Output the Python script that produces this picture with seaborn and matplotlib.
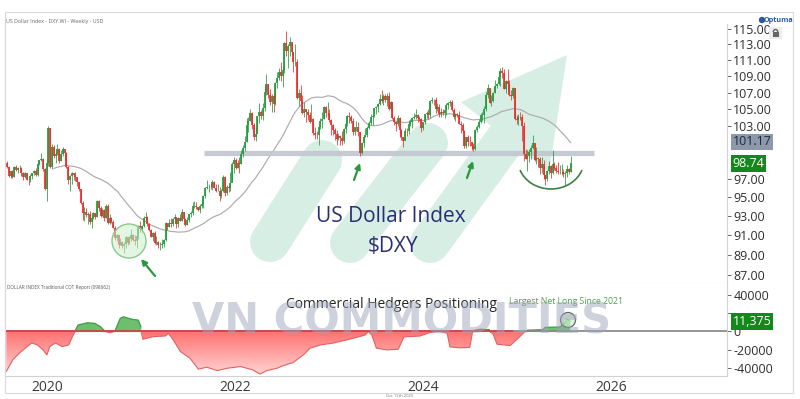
import numpy as np
import pandas as pd
import matplotlib
matplotlib.use("Agg")
import matplotlib.pyplot as plt
import matplotlib.dates as mdates
from matplotlib.transforms import Affine2D, ScaledTranslation
from matplotlib.patches import Circle, Arc, Polygon, Rectangle
from matplotlib.lines import Line2D
from matplotlib.path import Path
from matplotlib.ticker import NullLocator
from matplotlib.colors import LinearSegmentedColormap
import seaborn as sns

# ---------------- data ----------------
# weekly closes before the visible window (for the 40-week moving average)
warmup_close = [96.80, 97.13, 98.00, 98.09, 97.51, 98.14, 97.67, 98.92, 98.40, 98.07, 98.60, 99.13]
first_week = "2019-10-04"   # weekly bars, Fridays

close = [
    # 2019
    98.80, 98.30, 97.28, 97.83, 97.24, 98.35, 97.98, 98.27, 98.27, 97.70, 97.18, 97.66, 96.92,
    # 2020
    96.84, 97.36, 97.61, 97.87, 97.39, 98.69, 99.10, 99.26, 98.13, 95.95, 98.75, 102.82, 98.36,
    100.62, 99.52, 99.76, 100.37, 99.05, 99.75, 100.37, 99.86, 98.34, 96.94, 97.32, 97.62, 97.43,
    97.18, 96.66, 95.91, 94.43, 93.34, 93.42, 93.10, 93.25, 92.37, 92.77, 93.33, 92.93, 94.63,
    93.84, 93.06, 93.68, 92.77, 94.04, 92.23, 92.75, 92.39, 91.79, 90.70, 90.98, 90.02, 90.27,
    # 2021
    89.94, 90.10, 90.77, 90.23, 90.58, 91.03, 90.48, 90.36, 90.88, 91.98, 91.67, 91.92, 92.77,
    92.92, 92.16, 91.56, 90.86, 91.28, 90.22, 90.32, 89.99, 90.03, 90.14, 90.55, 92.23, 91.85,
    92.23, 92.12, 92.68, 92.90, 92.17, 92.80, 92.52, 93.46, 92.66, 92.06, 92.58, 93.20, 93.31,
    94.04, 94.07, 93.96, 93.64, 94.12, 94.32, 95.13, 96.03, 96.09, 96.15, 96.08, 96.63, 96.02, 95.67,
    # 2022
    95.73, 95.17, 95.64, 97.27, 95.48, 96.08, 96.04, 96.61, 98.66, 99.13, 98.23, 98.81, 98.62,
    99.84, 100.51, 101.13, 103.19, 103.66, 104.56, 103.16, 101.68, 102.14, 104.15, 104.66, 104.20, 105.14,
    107.01, 108.06, 106.72, 105.84, 106.61, 105.64, 108.12, 108.82, 109.53, 109.00, 109.76, 113.19, 112.12,
    112.79, 113.31, 111.98, 110.75, 110.81, 106.29, 106.94, 106.01, 104.51, 104.98, 104.70, 104.32, 103.52,
    # 2023
    103.89, 102.20, 101.99, 101.92, 102.92, 103.63, 103.86, 105.21, 104.52, 104.58, 103.72, 103.12, 102.51,
    102.10, 101.55, 101.83, 101.66, 101.32, 102.68, 103.20, 104.23, 104.02, 103.55, 102.28, 102.90, 102.91,
    102.27, 99.91, 101.08, 101.68, 102.02, 102.84, 103.39, 104.08, 104.24, 105.09, 105.32, 105.58, 106.22,
    106.04, 106.62, 106.16, 106.56, 105.06, 105.86, 103.91, 103.45, 103.27, 103.99, 102.58, 101.71, 101.33,
    # 2024
    102.42, 102.40, 103.26, 103.45, 103.92, 104.06, 104.26, 103.92, 103.86, 102.73, 103.44, 104.43, 104.51,
    104.30, 106.04, 106.15, 106.09, 105.02, 105.30, 104.48, 104.71, 104.59, 104.89, 105.55, 105.80, 105.87,
    104.88, 104.09, 104.39, 104.32, 103.21, 103.14, 102.45, 100.72, 101.70, 101.18, 101.11, 100.72, 100.38,
    102.52, 102.89, 103.49, 104.26, 104.28, 105.00, 106.69, 107.55, 105.74, 105.99, 106.99, 107.79, 108.00,
    # 2025
    108.95, 109.65, 109.35, 107.45, 108.37, 108.04, 106.71, 106.63, 107.61, 103.84, 103.72, 104.09, 104.04,
    102.99, 99.79, 99.23, 99.58, 100.02, 100.42, 101.09, 99.11, 99.33, 99.19, 98.18, 98.71, 97.40,
    96.97, 97.85, 98.48, 97.65, 98.69, 98.18, 97.85, 97.72, 97.77, 97.77, 97.55, 97.65, 98.15,
    97.72, 98.74,
]

high = [
    99.67, 99.05, 98.45, 97.90, 98.04, 98.45, 98.51, 98.34, 98.55, 98.29, 97.80, 97.72, 97.71,
    96.99, 97.55, 97.66, 98.05, 98.19, 98.74, 99.15, 99.91, 99.37, 98.24, 99.12, 102.99, 102.77,
    100.93, 100.86, 100.11, 100.93, 100.43, 100.21, 100.56, 100.19, 100.02, 98.46, 97.49, 97.76, 97.70,
    97.81, 97.18, 96.64, 95.92, 94.65, 93.98, 93.91, 93.43, 93.57, 93.00, 93.44, 93.36, 94.74,
    94.75, 94.03, 93.91, 93.72, 94.31, 94.30, 93.21, 92.88, 92.59, 91.92, 91.12, 90.98, 90.72,
    90.43, 90.26, 90.95, 90.81, 90.96, 91.60, 91.15, 91.06, 90.97, 92.10, 92.51, 92.08, 92.97,
    93.44, 93.05, 92.25, 91.64, 91.31, 91.44, 90.90, 90.39, 90.30, 90.63, 90.62, 92.41, 92.17,
    92.74, 92.84, 92.84, 93.19, 92.94, 92.87, 93.19, 93.73, 93.46, 92.81, 92.87, 93.26, 93.53,
    94.50, 94.56, 94.52, 93.97, 94.30, 94.63, 95.26, 96.12, 96.94, 96.45, 96.44, 96.91, 96.73, 96.44,
    96.46, 96.10, 95.92, 97.44, 97.28, 96.31, 96.35, 97.74, 98.91, 99.42, 99.29, 99.08, 99.42,
    100.19, 100.77, 101.86, 103.93, 104.07, 105.01, 104.67, 103.41, 102.73, 104.24, 105.79, 104.95, 105.79,
    107.79, 109.29, 108.09, 107.43, 106.81, 106.93, 108.26, 109.48, 109.99, 110.79, 110.29, 113.33, 114.78,
    113.06, 113.94, 113.15, 112.02, 113.00, 111.20, 107.41, 107.95, 106.70, 105.82, 105.07, 105.00, 104.67,
    105.63, 103.95, 102.90, 102.41, 103.01, 103.96, 104.67, 105.36, 105.36, 105.88, 105.06, 103.89, 103.25,
    102.80, 102.58, 102.25, 101.96, 102.41, 102.73, 103.62, 104.31, 104.70, 104.28, 103.95, 102.93, 103.55,
    103.49, 102.28, 101.17, 101.84, 102.84, 102.98, 103.59, 104.44, 104.27, 105.16, 105.43, 105.78, 106.84,
    107.35, 106.79, 106.78, 106.89, 107.11, 106.00, 105.86, 104.21, 103.55, 104.26, 104.02, 102.72, 101.75,
    102.73, 102.73, 103.69, 103.82, 104.06, 104.60, 104.97, 104.44, 104.21, 103.98, 103.48, 104.48, 104.73,
    105.03, 106.11, 106.52, 106.28, 106.49, 105.74, 105.62, 105.12, 105.00, 104.96, 105.80, 105.91, 106.13,
    106.14, 105.10, 104.49, 104.57, 104.80, 103.56, 103.34, 102.60, 101.76, 101.95, 101.80, 101.11, 101.02,
    102.69, 103.16, 103.87, 104.57, 104.63, 105.44, 107.07, 108.07, 107.35, 106.73, 107.08, 108.54, 108.16,
    109.54, 109.97, 110.18, 109.94, 108.52, 109.88, 108.52, 107.27, 107.66, 107.56, 104.29, 104.41, 104.68,
    104.37, 103.46, 100.38, 100.30, 100.38, 100.86, 101.98, 101.07, 100.54, 99.44, 99.47, 99.42, 99.09,
    97.47, 98.00, 98.95, 98.58, 100.25, 98.86, 98.59, 98.85, 98.54, 98.66, 98.10, 97.91, 98.60,
    98.23, 99.56,
]

low = [
    98.72, 98.25, 97.26, 97.13, 97.11, 97.24, 97.86, 97.67, 98.06, 97.38, 96.85, 97.06, 96.91,
    96.36, 96.63, 97.05, 97.47, 97.32, 97.36, 98.51, 98.97, 97.87, 95.84, 94.65, 98.41, 98.27,
    98.14, 99.37, 98.81, 99.66, 98.82, 99.05, 99.58, 99.13, 98.17, 96.42, 95.71, 96.45, 96.84,
    96.83, 96.23, 95.64, 94.30, 92.54, 92.52, 92.88, 92.13, 92.20, 91.75, 92.70, 92.70, 92.87,
    93.55, 92.95, 93.05, 92.47, 92.79, 92.13, 92.13, 92.29, 91.75, 90.51, 90.45, 89.72, 89.97,
    89.72, 89.21, 89.69, 89.95, 90.06, 90.43, 90.36, 90.02, 89.68, 90.64, 91.34, 91.30, 91.83,
    92.60, 91.99, 91.49, 90.81, 90.42, 90.13, 89.97, 89.65, 89.53, 89.66, 89.80, 90.42, 91.51,
    91.84, 91.86, 91.94, 92.55, 91.79, 91.90, 92.46, 92.47, 92.54, 91.94, 92.08, 92.35, 92.93,
    93.14, 93.89, 93.71, 93.49, 93.28, 93.87, 93.87, 94.95, 95.95, 95.53, 95.91, 95.85, 95.97, 95.54,
    95.67, 94.63, 94.98, 95.59, 95.14, 95.28, 95.58, 95.72, 96.67, 97.71, 98.13, 98.18, 97.68,
    98.70, 99.42, 100.18, 101.12, 102.35, 103.60, 102.66, 101.43, 101.30, 102.15, 103.41, 103.85, 103.67,
    104.77, 106.70, 106.32, 105.54, 104.64, 104.64, 105.56, 107.58, 108.58, 108.36, 107.68, 109.36, 111.56,
    110.06, 111.59, 111.53, 109.54, 110.32, 106.27, 105.34, 105.63, 104.37, 104.10, 103.44, 103.74, 103.38,
    103.81, 101.99, 101.53, 101.50, 100.82, 102.64, 102.78, 103.83, 104.10, 104.28, 103.44, 101.92, 101.94,
    101.41, 100.79, 101.34, 100.79, 100.79, 101.03, 102.24, 102.96, 103.36, 103.36, 101.97, 101.92, 102.46,
    101.89, 99.57, 99.74, 100.55, 101.74, 101.77, 102.66, 103.19, 103.15, 104.09, 104.43, 104.68, 105.52,
    105.77, 105.53, 105.85, 105.34, 104.85, 104.96, 103.86, 103.17, 102.46, 102.97, 101.77, 101.42, 100.62,
    101.34, 101.86, 102.14, 102.99, 102.77, 103.87, 103.86, 103.44, 103.62, 102.35, 102.59, 103.20, 103.94,
    103.88, 103.92, 105.71, 105.46, 104.52, 104.77, 104.08, 104.08, 104.35, 103.99, 104.29, 104.99, 105.42,
    104.80, 103.87, 103.65, 104.04, 103.21, 102.16, 102.28, 100.53, 100.51, 100.75, 100.70, 100.22, 100.16,
    100.21, 102.32, 102.82, 103.40, 103.66, 103.37, 104.80, 106.34, 105.74, 105.41, 105.92, 106.96, 107.60,
    107.97, 107.75, 108.81, 107.44, 106.96, 107.35, 106.56, 106.10, 106.33, 103.71, 103.21, 103.19, 103.77,
    101.26, 99.01, 99.21, 97.92, 98.93, 99.18, 100.39, 99.05, 98.69, 98.35, 97.60, 97.61, 96.96,
    96.37, 96.81, 97.57, 97.10, 97.55, 97.99, 97.63, 97.58, 97.55, 97.44, 97.25, 96.22, 97.20,
    97.50, 97.80,
]

ma_window = 40
support_level = 99.9
ma_label = 101.17
last_price = 98.74

# ticks at 99 and 101 are hidden behind the value boxes in the reference
price_ticks = [87, 89, 91, 93, 95, 97, 103, 105, 107, 109, 111, 113, 115]

# Commercial hedgers net position (COT)
cot_dates = [
    "2019-10-08", "2019-11-03", "2019-11-29", "2019-12-28", "2020-01-15", "2020-02-06",
    "2020-02-28", "2020-03-14", "2020-03-25", "2020-04-16", "2020-05-12", "2020-06-07",
    "2020-06-21", "2020-07-02", "2020-07-13", "2020-08-18", "2020-09-16", "2020-10-08",
    "2020-10-26", "2020-11-13", "2020-12-05", "2020-12-24", "2021-01-05", "2021-02-10",
    "2021-03-04", "2021-03-15", "2021-03-22", "2021-05-01", "2021-06-18", "2021-06-29",
    "2021-07-14", "2021-08-15", "2021-09-21", "2021-10-24", "2021-11-25", "2022-01-05",
    "2022-02-14", "2022-04-06", "2022-05-23", "2022-06-21", "2022-07-17", "2022-08-26",
    "2022-09-17", "2022-10-27", "2022-12-06", "2023-01-01", "2023-02-10", "2023-03-29",
    "2023-05-23", "2023-07-02", "2023-08-04", "2023-08-15", "2023-08-29", "2023-09-16",
    "2023-10-27", "2023-12-10", "2024-01-01", "2024-03-03", "2024-04-12", "2024-05-19",
    "2024-06-17", "2024-06-28", "2024-08-07", "2024-09-13", "2024-09-24", "2024-10-23",
    "2024-11-29", "2024-12-13", "2024-12-28", "2025-02-17", "2025-03-18", "2025-04-16",
    "2025-04-27", "2025-06-24", "2025-07-02", "2025-08-29", "2025-09-16", "2025-09-27",
    "2025-10-08",
]
cot_net = [
    -44000, -31000, -23500, -16600, -12700, -14800,
    -20300, -25800, -16600, -12700, -16600, -14800,
    -5700, 1000, 7100, 9600, 9000, 5300,
    200, -1300, 1600, 14500, 16200, 13300,
    12600, 5000, -8600, -5700, -4900, -2000,
    -7500, -22100, -29400, -41500, -39300, -43000,
    -40400, -38600, -42200, -46900, -43000, -40400,
    -37800, -34200, -25800, -18400, -14800, -12900,
    -9300, -6400, -3800, 300, -3800, -18400,
    -20300, -19500, -6000, -5000, -1000, 500,
    -2000, -17000, -18000, -17500, 1000, 2500,
    2000, -3000, -14000, -15500, -8000, 500,
    1500, 2000, 4500, 5000, 9000, 14000,
    11375,
]
cot_ticks = [-40000, -20000, 0, 20000, 40000]
cot_tick_labels = ["-40000", "-20000", "0", "", "40000"]   # 20000 sits behind the value box
cot_last = 11375

year_ticks = ["2020-01-01", "2022-01-01", "2024-01-01", "2026-01-01"]
year_labels = ["2020", "2022", "2024", "2026"]

# ---------------- style ----------------
sns.set_theme(style="white")
plt.rcParams["font.family"] = ["Open Sans", "DejaVu Sans"]

W, H = 800, 399
fig = plt.figure(figsize=(W / 100, H / 100), dpi=100)
fig.patch.set_facecolor("white")
PIX = Affine2D().scale(1, -1).translate(0, H)   # image-pixel coords (y down)


def fp(x, y):
    return x / W, 1 - y / H


UP = "#1f9b3a"
DN = "#ec2b2d"
SPINE = "#d2d2d2"
TXT = "#2e2e2e"

ax = fig.add_axes([5 / W, 1 - 283 / H, 722 / W, 259 / H])
axc = fig.add_axes([5 / W, 1 - 376 / H, 722 / W, 93 / H])

x_left = mdates.date2num(pd.Timestamp("2019-10-03"))
x_right = mdates.date2num(pd.Timestamp("2027-06-10"))

# ---------------- price panel ----------------
dates = pd.date_range(first_week, periods=len(close), freq="W-FRI")
dn = mdates.date2num(dates.values)
c = np.array(close)
h = np.array(high)
l = np.array(low)
o = np.concatenate([[warmup_close[-1]], c[:-1]])
up = c >= o
bot = np.minimum(o, c)
top = np.maximum(o, c)
for mask, col in [(up, UP), (~up, DN)]:
    ax.vlines(dn[mask], l[mask], h[mask], colors=col, lw=0.55, zorder=3)
    ax.vlines(dn[mask], bot[mask], top[mask], colors=col, lw=1.25, zorder=3)

full = pd.Series(warmup_close + close)
ma = full.rolling(ma_window).mean().iloc[len(warmup_close):].values
ok = ~np.isnan(ma)
sns.lineplot(x=dn[ok], y=ma[ok], ax=ax, color="#ababab", lw=0.85, zorder=2)

# support band
ax.hlines(support_level, mdates.date2num(pd.Timestamp("2021-11-15")),
          mdates.date2num(pd.Timestamp("2026-01-10")),
          colors="#c0c5cf", lw=3.8, alpha=0.9, zorder=2.5)

# watermark arrow (decoration)
mint = "#d7eee5"
for (x0, y0, x1, y1) in [(270, 242, 322, 160), (350, 243, 428, 143), (430, 243, 505, 140)]:
    ln = Line2D([x0, x1], [y0, y1], transform=PIX, lw=40 * 0.72, color=mint,
                solid_capstyle="round", zorder=0.5)
    ax.add_artist(ln)
ax.add_artist(Polygon([(567, 55), (461, 102), (549, 172)], closed=True, transform=PIX,
                      fc=mint, ec="none", zorder=0.5))

ax.set_yscale("log")
ax.set_ylim(86.2, 115.66)
ax.set_xlim(x_left, x_right)
ax.set_yticks(price_ticks)
ax.set_yticklabels([f"{t:.2f}" for t in price_ticks])
ax.yaxis.set_minor_locator(NullLocator())
ax.yaxis.tick_right()
ax.tick_params(axis="y", which="major", right=True, labelright=True, left=False,
               labelleft=False, length=3, width=0.7, color="#666", pad=1.5,
               labelsize=9, labelcolor=TXT)
ax.set_xticks([])
ax.set_xlabel("")
ax.set_ylabel("")
for s in ["left", "right", "bottom"]:
    ax.spines[s].set_color(SPINE)
    ax.spines[s].set_linewidth(0.8)
ax.spines["top"].set_visible(False)

# value labels on the price axis
ax.annotate(f"{ma_label:.2f}", xy=(1, ma_label), xycoords=("axes fraction", "data"),
            xytext=(4, 0), textcoords="offset points", ha="left", va="center",
            fontsize=9, color="#1c2a3a",
            bbox=dict(boxstyle="square,pad=0.15", fc="#8d99ab", ec="none"),
            annotation_clip=False, zorder=6)
ax.annotate(f"{last_price:.2f}", xy=(1, last_price), xycoords=("axes fraction", "data"),
            xytext=(4, 0), textcoords="offset points", ha="left", va="center",
            fontsize=9, color="white",
            bbox=dict(boxstyle="square,pad=0.15", fc="#13881b", ec="none"),
            annotation_clip=False, zorder=6)

# circle at 2021 low, arrows, smile arc
ax.add_artist(Circle((129, 241), 17, transform=PIX, fc=(0.80, 0.93, 0.80, 0.55),
                     ec="#8cc88c", lw=1.0, zorder=4))
for tail, tip in [((155, 276), (141, 259)), ((354, 180), (360, 163)), ((467, 178), (473, 161))]:
    ax.annotate("", xy=tip, xytext=tail, xycoords=PIX, textcoords=PIX,
                arrowprops=dict(arrowstyle="-|>", color="#2b983b", lw=1.6,
                                mutation_scale=8, shrinkA=0, shrinkB=0), zorder=5)
ax.add_artist(Arc((551, 160), 66, 58, theta1=18, theta2=162, transform=PIX,
                  color="#3f7f42", lw=1.2, zorder=5))

# ---------------- COT panel ----------------
cd = mdates.date2num(pd.to_datetime(cot_dates).values)
v = np.array(cot_net, dtype=float)
axc.fill_between(cd, v, 0, where=v >= 0, interpolate=True, color="#6dbf6d", lw=0, zorder=2)
neg = axc.fill_between(cd, v, 0, where=v <= 0, interpolate=True, color="none", lw=0)
cp = Path.make_compound_path(*neg.get_paths())
cmap = LinearSegmentedColormap.from_list("redfade", ["#ff7070", "#ffd5d5"])
im = axc.imshow(np.linspace(0, 1, 256).reshape(-1, 1), aspect="auto", cmap=cmap,
                extent=(cd[0], cd[-1], -48000, 0), origin="upper", zorder=1.5)
im.set_clip_path(cp, transform=axc.transData)
sns.lineplot(x=cd, y=np.where(v <= 0, v, 0), ax=axc, color="#e46060", lw=0.8, zorder=2.2)
axc.plot(cd, np.where(v >= 0, v, np.nan), color="#3f9e42", lw=0.9, zorder=2.3)
axc.axhline(0, color="#8a8a8a", lw=1.3, zorder=3)
axc.hlines(0, cd[0], mdates.date2num(pd.Timestamp("2025-03-01")), colors="#c94848",
           lw=1.3, zorder=3.1)
axc.add_artist(Circle((568, 320), 7.5, transform=PIX, fc=(0.80, 0.93, 0.80, 0.7),
                      ec="#666", lw=0.9, zorder=4))

axc.set_xlim(x_left, x_right)
axc.set_ylim(-49000, 53400)
axc.yaxis.tick_right()
axc.set_yticks(cot_ticks)
axc.set_yticklabels(cot_tick_labels)
axc.tick_params(axis="y", right=True, labelright=True, left=False, labelleft=False,
                length=3, width=0.7, color="#666", pad=1.5, labelsize=9, labelcolor=TXT)
axc.set_xticks(mdates.date2num(pd.to_datetime(year_ticks).values))
axc.set_xticklabels(year_labels)
axc.tick_params(axis="x", bottom=True, length=0, pad=3, labelsize=10, labelcolor="#3a3a3a")
shift = ScaledTranslation(3 / 100, 0, fig.dpi_scale_trans)
for lbl in axc.get_xticklabels():
    lbl.set_ha("left")
    lbl.set_transform(lbl.get_transform() + shift)
axc.set_xlabel("")
axc.set_ylabel("")
for s in ["left", "right", "bottom"]:
    axc.spines[s].set_color(SPINE)
    axc.spines[s].set_linewidth(0.8)
axc.spines["top"].set_visible(False)

axc.annotate(f"{cot_last:,}", xy=(1, cot_last), xycoords=("axes fraction", "data"),
             xytext=(4, 0), textcoords="offset points", ha="left", va="center",
             fontsize=9, color="white",
             bbox=dict(boxstyle="square,pad=0.15", fc="#13881b", ec="none"),
             annotation_clip=False, zorder=6)

# ---------------- texts ----------------
fig.text(*fp(6, 21), "US Dollar Index - DXY.WI - Weekly - USD", fontsize=3.8,
         color="#666", ha="left", va="center")
fig.text(*fp(7, 287), "DOLLAR INDEX Traditional COT Report (098662)", fontsize=3.3,
         color="#555", ha="left", va="center")
fig.text(*fp(391, 217), "US Dollar Index", fontsize=15, color="#2b2f72",
         ha="center", va="center")
fig.text(*fp(393, 246), "\\$DXY", fontsize=15, color="#2b2f72", ha="center", va="center")
fig.text(*fp(391, 305), "Commercial Hedgers Positioning", fontsize=10, color="#262626",
         ha="center", va="center")
fig.text(*fp(566, 302), "Largest Net Long Since 2021", fontsize=6.2, color="#4aa24b",
         ha="center", va="center")
fig.text(*fp(402, 322), "VN COMMODITIES", fontsize=30, fontweight="bold",
         family="DejaVu Sans", color="#9ea6ba", alpha=0.5, ha="center", va="center",
         zorder=10)
fig.text(*fp(400, 396), "Oct 12th 2025", fontsize=3, color="#777", ha="center", va="center")
fig.text(*fp(778, 20), "Optuma", fontsize=5.2, color="#2a5aa0", ha="center",
         va="center", fontweight="bold")
fig.add_artist(Circle((762, 20), 3.2, transform=PIX, fc="#2a5aa0", ec="none"))
fig.add_artist(Rectangle((769, 27), 13, 12, transform=PIX, fc="#ececec", ec="none"))
fig.add_artist(Rectangle((772.5, 32), 6, 5, transform=PIX, fc="#666", ec="none"))
fig.add_artist(Arc((775.5, 32), 4.5, 5, theta1=180, theta2=360, transform=PIX,
                   color="#666", lw=1))

# outer frame
fig.add_artist(Rectangle((5, 12), 788, 381, transform=PIX, fill=False, ec="#d9d9d9", lw=0.8))

fig.savefig("out.png", dpi=100)
